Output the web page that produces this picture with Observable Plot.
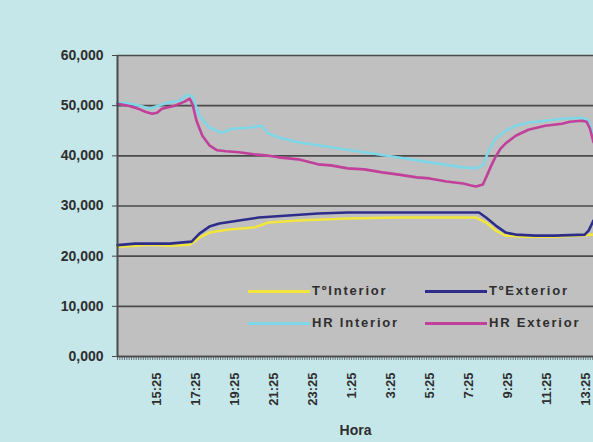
<!DOCTYPE html>
<html>
<head>
<meta charset="utf-8">
<script src="https://cdn.jsdelivr.net/npm/d3@7"></script>
<script src="https://cdn.jsdelivr.net/npm/@observablehq/plot@0.6"></script>
<style>
  body { margin: 0; background: #c5e7ea; }
  #wrap { position: relative; width: 593px; height: 442px; overflow: hidden; background: #c5e7ea;
          font-family: "Liberation Sans", Arial, sans-serif; }
  #legend { position: absolute; left: 0; top: 0; width: 593px; height: 442px; pointer-events: none; }
  .sw { position: absolute; height: 3px; width: 62px; }
  .lb { position: absolute; font-size: 13px; font-weight: bold; color: #2e2e2e; letter-spacing: 1.8px;
        line-height: 16px; white-space: nowrap; }
</style>
</head>
<body>
<div id="wrap"><div id="chart"></div><div id="legend"></div></div>
<script>
// x values: hours elapsed since 13:25 of the first day
const seriesNames = ["TºInterior", "TºExterior", "HR Interior", "HR Exterior"];
const seriesColors = ["#f2e63c", "#2e2e8a", "#7fd6e6", "#c0409a"];

const tIntH = [0, 0.91, 1.67, 2.68, 3.70, 4.20, 4.71, 5.72, 6.99, 7.75, 9.27, 11.80, 14.33, 16.86, 18.38, 18.89, 19.39, 19.90, 20.91, 22.43, 24.40];
const tIntV = [21.9, 22.1, 22.3, 22.1, 22.3, 23.7, 24.7, 25.3, 25.7, 26.7, 27.1, 27.5, 27.7, 27.7, 27.7, 26.7, 25.1, 24.1, 23.9, 23.9, 24.3];

const tExtH = [0, 0.91, 1.67, 2.68, 3.80, 4.20, 4.71, 5.22, 6.23, 7.24, 8.76, 10.28, 11.80, 14.33, 16.86, 18.53, 18.89, 19.39, 19.90, 20.41, 21.42, 22.43, 23.95, 24.15, 24.40];
const tExtV = [22.2, 22.5, 22.5, 22.5, 22.9, 24.5, 25.9, 26.5, 27.1, 27.7, 28.1, 28.5, 28.7, 28.7, 28.7, 28.7, 27.7, 26.1, 24.7, 24.3, 24.1, 24.1, 24.3, 25.1, 27.1];

const hrIntH = [0, 0.66, 1.16, 1.67, 2.08, 2.58, 3.19, 3.59, 3.85, 4.20, 4.71, 5.37, 5.87, 6.73, 7.39, 7.75, 8.41, 9.27, 10.94, 12.66, 14.33, 16.00, 17.72, 18.38, 18.73, 19.04, 19.39, 19.90, 20.41, 21.06, 21.92, 22.78, 23.80, 24.15, 24.40];
const hrIntV = [50.6, 50.4, 50.0, 49.4, 50.0, 50.6, 51.0, 52.2, 51.8, 48.0, 45.6, 44.6, 45.4, 45.6, 46.0, 44.4, 43.5, 42.7, 41.7, 40.7, 39.7, 38.7, 37.7, 37.5, 38.1, 41.1, 43.5, 45.0, 46.0, 46.6, 47.0, 47.4, 47.6, 47.0, 43.7];

const hrExtH = [0, 0.56, 1.06, 1.42, 1.77, 2.03, 2.28, 2.94, 3.44, 3.70, 3.85, 4.05, 4.35, 4.71, 5.11, 5.57, 6.23, 6.99, 7.59, 8.25, 9.27, 10.28, 10.94, 11.80, 12.66, 13.57, 14.33, 15.34, 16.00, 16.86, 17.72, 18.13, 18.38, 18.73, 18.94, 19.14, 19.39, 19.65, 19.90, 20.41, 21.06, 21.92, 22.78, 23.19, 23.80, 24.05, 24.22, 24.40];
const hrExtV = [50.4, 50.0, 49.4, 48.8, 48.4, 48.6, 49.4, 50.0, 50.8, 51.4, 50.2, 47.0, 44.0, 42.1, 41.1, 40.9, 40.7, 40.3, 40.1, 39.7, 39.3, 38.3, 38.1, 37.5, 37.3, 36.7, 36.3, 35.7, 35.5, 34.9, 34.5, 34.1, 33.9, 34.3, 36.1, 37.9, 39.9, 41.5, 42.5, 44.0, 45.2, 46.0, 46.4, 46.8, 47.0, 46.8, 45.4, 42.7];

const xTickHours = [2, 4, 6, 8, 10, 12, 14, 16, 18, 20, 22, 24];
const xTickLabels = ["15:25", "17:25", "19:25", "21:25", "23:25", "1:25", "3:25", "5:25", "7:25", "9:25", "11:25", "13:25"];
const yTicks = [0, 10, 20, 30, 40, 50, 60];

const seriesH = [tIntH, tExtH, hrIntH, hrExtH];
const seriesV = [tIntV, tExtV, hrIntV, hrExtV];

const data = [];
seriesNames.forEach((name, i) => {
  seriesH[i].forEach((h, j) => data.push({ series: name, h, v: seriesV[i][j] }));
});

const minorTicks = d3.range(0, 24.4, 0.12);
const labelOf = new Map(xTickHours.map((h, i) => [h, xTickLabels[i]]));
const fmtY = d => d.toFixed(3).replace(".", ",");

const chart = Plot.plot({
  width: 593,
  height: 442,
  marginLeft: 117,
  marginRight: 0,
  marginTop: 55,
  marginBottom: 86,
  style: { background: "transparent", fontFamily: "'Liberation Sans', Arial, sans-serif", color: "#2e2e2e", overflow: "visible" },
  x: { domain: [0, 24.4], label: null },
  y: { domain: [0, 60], label: null },
  color: { domain: seriesNames, range: seriesColors },
  marks: [
    Plot.frame({ fill: "#c0c0c0", stroke: null }),
    Plot.gridY(yTicks, { stroke: "#4a4a4a", strokeOpacity: 1, strokeWidth: 1.6 }),
    ...seriesNames.map(name =>
      Plot.line(data.filter(d => d.series === name), { x: "h", y: "v", stroke: "series", strokeWidth: 2.6, strokeLinejoin: "round" })
    ),
    Plot.axisX(minorTicks, { tickSize: 4, tickFormat: () => "", stroke: "#555", strokeWidth: 0.8, label: null }),
    Plot.ruleX([0], { stroke: "#4a4a4a", strokeWidth: 2 }),
    Plot.ruleY([0], { stroke: "#4a4a4a", strokeWidth: 1.5 }),
    Plot.axisY(yTicks, { tickFormat: fmtY, tickSize: 5, tickPadding: 9, fontSize: 14, fontWeight: "bold", stroke: "#4a4a4a", letterSpacing: "1.6px", label: null }),
    Plot.axisX(xTickHours, { tickSize: 0, tickRotate: -90, tickPadding: 16, tickFormat: h => labelOf.get(h), fontSize: 13, fontWeight: "bold", label: null }),
    Plot.text(["Hora"], { frameAnchor: "bottom", dy: 78, text: d => d, fontSize: 14, fontWeight: "bold", letterSpacing: "4px" })
  ]
});
document.getElementById("chart").appendChild(chart);

// legend inside the plot area
const legendRows = [[0, 1], [2, 3]];
const lg = document.getElementById("legend");
legendRows.forEach((row, r) => {
  row.forEach((si, c) => {
    const top = 291 + r * 32;
    const left = 248 + c * 177;
    const sw = document.createElement("div");
    sw.className = "sw";
    sw.style.left = left + "px";
    sw.style.top = (top - 1) + "px";
    sw.style.background = seriesColors[si];
    lg.appendChild(sw);
    const lb = document.createElement("div");
    lb.className = "lb";
    lb.style.left = (left + 64) + "px";
    lb.style.top = (top - 8) + "px";
    lb.textContent = seriesNames[si];
    lg.appendChild(lb);
  });
});
</script>
</body>
</html>
